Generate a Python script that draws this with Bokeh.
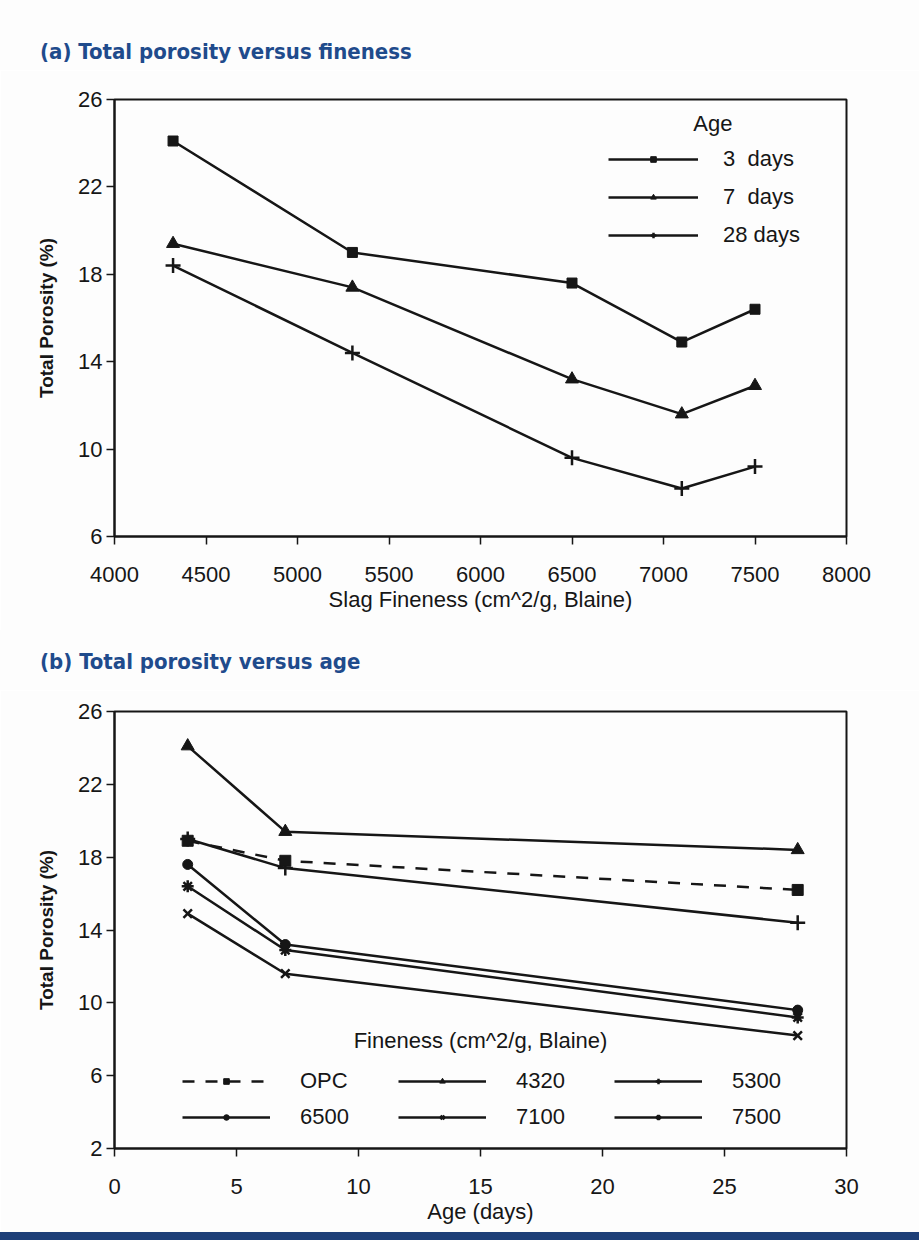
from bokeh.plotting import figure
from bokeh.models import Range1d, FixedTicker, Legend, LegendItem, Label, Div
from bokeh.layouts import column
from bokeh.embed import file_html
from bokeh.resources import INLINE

# ---------------- data: chart (a) ----------------
fineness = [4320, 5300, 6500, 7100, 7500]
porosity_3d = [24.1, 19.0, 17.6, 14.9, 16.4]
porosity_7d = [19.4, 17.4, 13.2, 11.6, 12.9]
porosity_28d = [18.4, 14.4, 9.6, 8.2, 9.2]
age_labels = ["3\u00a0 days", "7\u00a0 days", "28 days"]

xticks_a = [4000, 4500, 5000, 5500, 6000, 6500, 7000, 7500, 8000]
yticks_a = [6, 10, 14, 18, 22, 26]

# ---------------- data: chart (b) ----------------
ages = [3, 7, 28]
por_opc = [18.9, 17.8, 16.2]
por_4320 = [24.1, 19.4, 18.4]
por_5300 = [19.0, 17.4, 14.4]
por_6500 = [17.6, 13.2, 9.6]
por_7100 = [14.9, 11.6, 8.2]
por_7500 = [16.4, 12.9, 9.2]
fineness_labels = ["OPC", "4320", "5300", "6500", "7100", "7500"]

xticks_b = [0, 5, 10, 15, 20, 25, 30]
yticks_b = [2, 6, 10, 14, 18, 22, 26]

title_a = "(a) Total porosity versus fineness"
title_b = "(b) Total porosity versus age"

INK = "#161616"
BLUE = "#1f4b8c"
BG = "#fdfdfd"
FONT = "Liberation Sans"
TITLE_FONT = "DejaVu Sans Condensed"


def title_div(text, height, pad_top):
    html = ('<div style="padding:%dpx 0 0 40px; font-family:\'%s\'; '
            'font-weight:bold; font-size:22px; line-height:26px; color:%s; '
            'white-space:nowrap;">%s</div>' % (pad_top, TITLE_FONT, BLUE, text))
    return Div(text=html, width=919, height=height, margin=0,
               styles={"background-color": BG})


def style(p, xticks, yticks, xlabel, ylabel):
    p.background_fill_color = BG
    p.border_fill_color = BG
    p.outline_line_color = INK
    p.outline_line_width = 2
    p.outline_line_alpha = 1.0
    p.xgrid.visible = False
    p.ygrid.visible = False
    p.xaxis.ticker = FixedTicker(ticks=xticks)
    p.yaxis.ticker = FixedTicker(ticks=yticks)
    p.xaxis.axis_label = xlabel
    p.yaxis.axis_label = ylabel
    for ax in (p.xaxis[0], p.yaxis[0]):
        ax.axis_line_color = INK
        ax.axis_line_width = 2
        ax.major_tick_line_color = INK
        ax.major_tick_line_width = 1.5
        ax.major_tick_out = 8
        ax.major_tick_in = 0
        ax.minor_tick_line_color = None
        ax.major_label_text_font = FONT
        ax.major_label_text_font_size = "22px"
        ax.major_label_text_color = INK
        ax.axis_label_text_font = FONT
        ax.axis_label_text_color = INK
    p.xaxis.major_label_standoff = 22
    p.yaxis.major_label_standoff = 4
    p.xaxis.axis_label_text_font_size = "22px"
    p.xaxis.axis_label_text_font_style = "normal"
    p.xaxis.axis_label_standoff = 2
    p.yaxis.axis_label_text_font_size = "19px"
    p.yaxis.axis_label_text_font_style = "bold"
    p.yaxis.axis_label_standoff = 18


# ================= figure (a) =================
div_a = title_div(title_a, 70, 39)
p1 = figure(width=919, height=560, output_backend="svg", toolbar_location=None,
            x_range=Range1d(4000, 8000), y_range=Range1d(6, 26),
            min_border_left=113, min_border_right=73,
            min_border_top=29, min_border_bottom=94)
style(p1, xticks_a, yticks_a, "Slag Fineness (cm^2/g, Blaine)",
      "Total Porosity (%)")

series_a = [
    (porosity_3d, "square", 10, 1.0),
    (porosity_7d, "triangle", 13, 1.0),
    (porosity_28d, "cross", 15, 2.5),
]
items_a = []
for (vals, marker, size, lw), lab in zip(series_a, age_labels):
    ln = p1.line(fineness, vals, line_color=INK, line_width=2.5)
    sc = p1.scatter(fineness, vals, marker=marker, size=size,
                    fill_color=INK, line_color=INK, line_width=lw)
    items_a.append(LegendItem(label=lab, renderers=[ln, sc]))

leg_a = Legend(items=items_a, location=(494, 288), orientation="vertical",
               glyph_width=90, glyph_height=14, label_standoff=25,
               label_text_font=FONT, label_text_font_size="22px",
               label_text_color=INK, spacing=12, padding=0, margin=0,
               border_line_color=None, background_fill_alpha=0)
p1.add_layout(leg_a)
p1.add_layout(Label(x=7270, y=24.9, text="Age", text_align="center",
                    text_baseline="middle", text_font=FONT,
                    text_font_size="22px", text_color=INK))

# ================= figure (b) =================
div_b = title_div(title_b, 60, 19)
p2 = figure(width=919, height=542, output_backend="svg", toolbar_location=None,
            x_range=Range1d(0, 30), y_range=Range1d(2, 26),
            min_border_left=114, min_border_right=63,
            min_border_top=21, min_border_bottom=84)
style(p2, xticks_b, yticks_b, "Age (days)", "Total Porosity (%)")

series_b = [
    (por_opc, "square", 11, 1.0, "12 11"),
    (por_4320, "triangle", 13, 1.0, "solid"),
    (por_5300, "cross", 15, 2.5, "solid"),
    (por_6500, "circle", 10, 1.0, "solid"),
    (por_7100, "x", 12, 2.5, "solid"),
    (por_7500, "asterisk", 12, 2.5, "solid"),
]
renderers_b = []
for vals, marker, size, lw, dash in series_b:
    ln = p2.line(ages, vals, line_color=INK, line_width=2.5, line_dash=dash)
    renderers_b.append([ln])
for i in range(len(series_b) - 1, -1, -1):
    vals, marker, size, lw, dash = series_b[i]
    sc = p2.scatter(ages, vals, marker=marker, size=size,
                    fill_color=INK, line_color=INK, line_width=lw)
    renderers_b[i].append(sc)

items_b = [LegendItem(label=lab, renderers=rs)
           for lab, rs in zip(fineness_labels, renderers_b)]
leg_b = Legend(items=items_b, location=(68, 18), orientation="horizontal",
               ncols=3, glyph_width=88, glyph_height=14, label_standoff=30,
               label_width=88, label_text_font=FONT, label_text_font_size="22px",
               label_text_color=INK, spacing=10, padding=0, margin=0,
               border_line_color=None, background_fill_alpha=0)
p2.add_layout(leg_b)
p2.add_layout(Label(x=15.0, y=7.93, text="Fineness (cm^2/g, Blaine)",
                    text_align="center", text_baseline="middle", text_font=FONT,
                    text_font_size="22px", text_color=INK))

bar = Div(width=919, height=8, margin=0,
          styles={"background-color": "#1d3f78"})

layout = column(div_a, p1, div_b, p2, bar, spacing=0)
open("out.html", "w").write(file_html(layout, INLINE))
